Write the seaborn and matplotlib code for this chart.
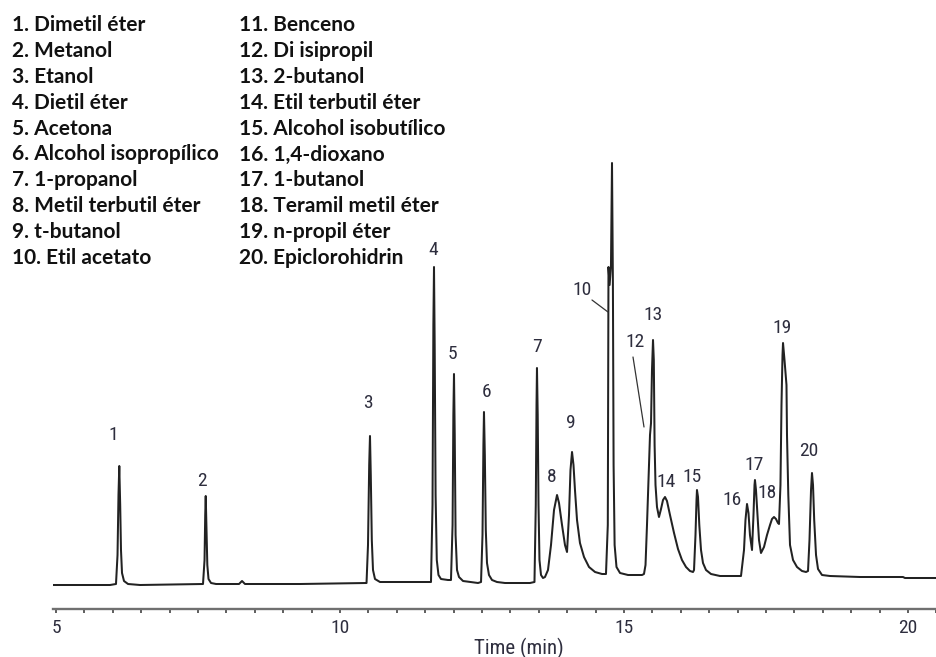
import matplotlib
import matplotlib.pyplot as plt
import seaborn as sns
from matplotlib import font_manager
from matplotlib.font_manager import FontProperties
from matplotlib.ticker import MultipleLocator
from matplotlib.transforms import offset_copy

matplotlib.use('Agg')

# Compound list shown above the chromatogram (numbered 1..20)
compound_names = ['Dimetil éter', 'Metanol', 'Etanol', 'Dietil éter', 'Acetona',
                  'Alcohol isopropílico', '1-propanol', 'Metil terbutil éter', 't-butanol',
                  'Etil acetato', 'Benceno', 'Di isipropil', '2-butanol', 'Etil terbutil éter',
                  'Alcohol isobutílico', '1,4-dioxano', '1-butanol', 'Teramil metil éter',
                  'n-propil éter', 'Epiclorohidrin']

# Detector trace (time in min, signal in arbitrary units)
trace_time = [
    4.947, 5.951, 6.056, 6.083, 6.100, 6.114, 6.130, 6.144, 6.162, 6.197, 6.268, 6.479,
    7.588, 7.615, 7.627, 7.636, 7.650, 7.664, 7.685, 7.729, 7.817,
    8.222, 8.275, 8.327, 9.296,
    10.352, 10.467, 10.493, 10.514, 10.528, 10.542, 10.560, 10.581, 10.616, 10.704,
    11.496, 11.602, 11.629, 11.644, 11.655, 11.667, 11.683, 11.704, 11.734, 11.778, 11.901,
    11.954, 11.982, 11.996, 12.007, 12.020, 12.035, 12.060, 12.095, 12.166, 12.430,
    12.483, 12.509, 12.525, 12.535, 12.550, 12.567, 12.588, 12.623, 12.676, 12.764, 12.905,
    13.345, 13.424, 13.447, 13.460, 13.468, 13.481, 13.495, 13.512, 13.539, 13.574, 13.609,
    13.662, 13.715, 13.768, 13.821, 13.856, 13.909, 13.961, 13.997,
    14.032, 14.058, 14.085, 14.111, 14.137, 14.173, 14.225, 14.296, 14.384, 14.490, 14.613, 14.683,
    14.715, 14.727, 14.747, 14.771, 14.789, 14.805, 14.817, 14.835, 14.868, 14.930, 15.071, 15.317,
    15.352, 15.379, 15.405, 15.432, 15.458, 15.476, 15.493, 15.511, 15.525, 15.539, 15.555, 15.581,
    15.616, 15.652, 15.687, 15.722, 15.757, 15.810, 15.881, 15.951, 16.021, 16.092, 16.162, 16.215,
    16.233, 16.259, 16.277, 16.285, 16.303, 16.326, 16.356, 16.391, 16.444, 16.532, 16.690,
    17.060, 17.113, 17.139, 17.166, 17.192, 17.218, 17.254, 17.280, 17.298, 17.306, 17.324, 17.350,
    17.377, 17.412, 17.465, 17.518, 17.571, 17.606, 17.641, 17.676, 17.711, 17.729, 17.755, 17.773,
    17.791, 17.800, 17.826, 17.861, 17.870, 17.893, 17.923, 17.976, 18.046, 18.134, 18.205,
    18.240, 18.266, 18.293, 18.310, 18.328, 18.349, 18.381, 18.416, 18.486, 18.627, 19.155, 19.912,
    19.947, 20.511,
]
trace_signal = [
    0, 0, 1, 30, 90, 119, 80, 35, 12, 4, 1, 0,
    1, 25, 70, 89, 55, 20, 6, 2, 1,
    1, 4, 1, 1,
    2, 2, 40, 120, 149, 110, 45, 15, 6, 3,
    3, 3, 80, 260, 318, 240, 90, 25, 10, 6, 5,
    5, 60, 170, 211, 150, 50, 15, 8, 4, 2,
    3, 50, 140, 173, 130, 55, 22, 10, 5, 3, 2,
    2, 3, 80, 180, 217, 170, 80, 25, 10, 7, 8,
    15, 40, 75, 90, 82, 60, 40, 33,
    70, 115, 133, 120, 95, 65, 42, 28, 18, 13, 11, 11,
    60, 318, 300, 320, 422, 300, 120, 40, 18, 12, 10, 10,
    11, 20, 60, 105, 150, 162, 215, 245, 225, 140, 100, 78,
    68, 76, 85, 88, 84, 70, 52, 36, 25, 18, 14, 13,
    15, 50, 85, 95, 88, 60, 35, 22, 15, 11, 9,
    9, 35, 65, 81, 72, 50, 35, 70, 100, 105, 95, 70,
    45, 32, 38, 50, 60, 66, 68, 66, 62, 61, 100, 180,
    230, 242, 225, 200, 150, 90, 40, 25, 18, 14, 13,
    14, 45, 95, 112, 100, 65, 30, 16, 10, 9, 8, 8,
    7, 7,
]

# Labelled peaks (peak 11 co-elutes with 10 and has no label)
peak_ids = ['1', '2', '3', '4', '5', '6', '7', '8', '9', '10',
            '12', '13', '14', '15', '16', '17', '18', '19', '20']
peak_time = [6.114, 7.636, 10.528, 11.655, 12.007, 12.535, 13.468, 13.821, 14.085, 14.727,
             15.458, 15.511, 15.722, 16.285, 17.166, 17.306, 17.641, 17.800, 18.310]
peak_height = [119, 89, 149, 318, 211, 173, 217, 90, 133, 318,
               150, 245, 88, 95, 81, 105, 68, 242, 112]


def pick_font(names):
    for n in names:
        try:
            font_manager.findfont(FontProperties(family=n), fallback_to_default=False)
            return n
        except ValueError:
            pass
    return 'DejaVu Sans'


sns.set_theme(style='white')
narrow = pick_font(['Liberation Sans Narrow', 'DejaVu Sans Condensed', 'Roboto Condensed',
                    'Liberation Sans'])
plt.rcParams['font.family'] = [narrow, 'DejaVu Sans']

W, H = 937, 657
fig = plt.figure(figsize=(W / 100, H / 100), dpi=100)
fig.patch.set_facecolor('white')
ax = fig.add_axes([53 / W, 48 / H, 884 / W, 609 / H])
ax.set_facecolor('white')

sns.lineplot(x=trace_time, y=trace_signal, ax=ax, color='#222222', linewidth=1.45,
             estimator=None, sort=False)

ax.set_xlim(4.947, 20.511)
ax.set_ylim(-24, 585)

# only the time axis is shown
for side in ['left', 'top', 'right']:
    ax.spines[side].set_visible(False)
ax.spines['bottom'].set_color('#707070')
ax.spines['bottom'].set_linewidth(1.7)
ax.set_yticks([])
ax.xaxis.set_major_locator(MultipleLocator(5))
ax.xaxis.set_minor_locator(MultipleLocator(0.5))
ax.tick_params(axis='x', which='both', direction='out', length=3, width=1.1,
               color='#333333', bottom=True)
ax.tick_params(axis='x', which='major', pad=4, labelsize=14, labelcolor='#2e2e3e')
ax.set_xlabel('Time (min)', fontsize=15, color='#2e2e3e')
ax.xaxis.set_label_coords((519 - 53) / 884, -39 / 609)
ax.xaxis.label.set_va('center')

# peak numbers: pixel offsets of the label from the peak apex
label_offsets = [(-6, 31), (-4, 15), (-2, 33), (-1, 17), (-2, 20), (3, 20), (0, 21), (-5, 18),
                 (-1, 29), (-26, -23), (-15, 93), (0, 25), (1, 15), (-5, 13), (-15, 4),
                 (-1, 15), (-7, 24), (-1, 15), (-3, 22)]
# leader lines: end point (from apex) and start point (from the end point), in pixels
leaders = {'10': ((-0.5, -45), (-16, 12)), '12': ((-6, 8), (-11, 70))}

for pid, t, h, (dx, dy) in zip(peak_ids, peak_time, peak_height, label_offsets):
    ax.annotate(pid, xy=(t, h), xytext=(dx, dy), textcoords='offset pixels',
                ha='center', va='center', fontsize=14, color='#2e2e3e')
    if pid in leaders:
        (x1, y1), (x0, y0) = leaders[pid]
        ax.annotate('', xy=(t, h), xycoords=offset_copy(ax.transData, fig=fig, x=x1, y=y1,
                                                         units='dots'),
                    xytext=(x0, y0), textcoords='offset pixels',
                    arrowprops=dict(arrowstyle='-', color='#333333', lw=0.9,
                                    shrinkA=0, shrinkB=0))

# numbered compound list in two columns
for i, name in enumerate(compound_names):
    col, row = divmod(i, 10)
    x = [12, 239][col]
    y = 25 + row * 25.9
    fig.text(x / W, 1 - y / H, f'{i + 1}. {name}', ha='left', va='center',
             fontsize=15, fontweight='bold', color='#111111', family=['Lato', 'DejaVu Sans'])

fig.savefig('out.png', dpi=100, facecolor='white')
